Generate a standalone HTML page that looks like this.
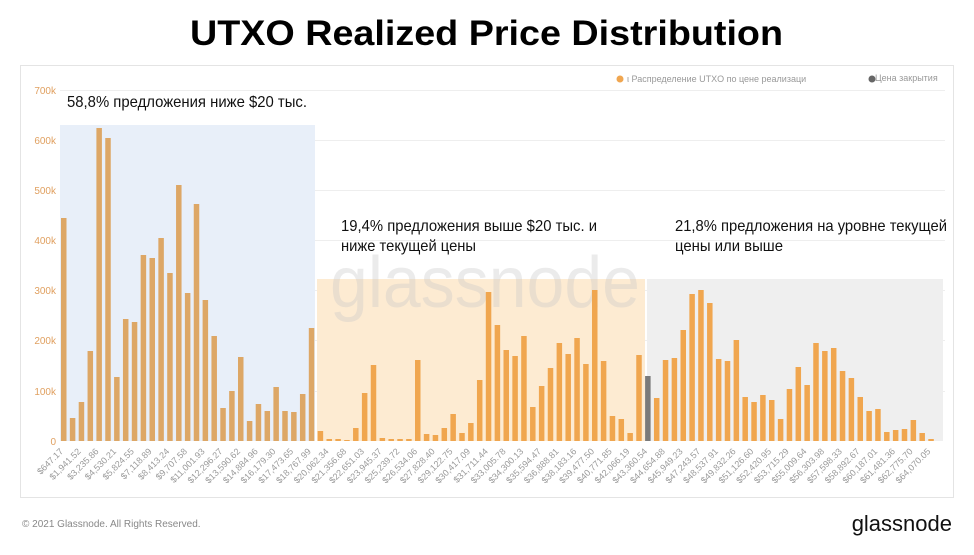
<!DOCTYPE html>
<html><head><meta charset="utf-8"><style>
body{margin:0;background:#fff;width:974px;height:550px;overflow:hidden;font-family:"Liberation Sans",sans-serif}
</style></head><body>
<svg id="s" width="974" height="550" xmlns="http://www.w3.org/2000/svg" font-family="Liberation Sans, sans-serif">
<text x="190" y="45" textLength="593" lengthAdjust="spacingAndGlyphs" font-size="35" font-weight="bold" fill="#000">UTXO Realized Price Distribution</text>
<rect x="20.5" y="65.5" width="933" height="432" fill="#fff" stroke="#e4e4e4"/>
<g stroke="#eeeeee" stroke-width="1">
<line x1="60" x2="945" y1="90.5" y2="90.5"/><line x1="60" x2="945" y1="140.5" y2="140.5"/><line x1="60" x2="945" y1="190.5" y2="190.5"/><line x1="60" x2="945" y1="240.5" y2="240.5"/><line x1="60" x2="945" y1="290.5" y2="290.5"/><line x1="60" x2="945" y1="340.5" y2="340.5"/><line x1="60" x2="945" y1="391.5" y2="391.5"/>
</g>
<rect x="60" y="125" width="255" height="316" fill="#e8eff9"/>
<rect x="317" y="279" width="328" height="162" fill="#fdebd2"/>
<rect x="647" y="279" width="296" height="162" fill="#efefef"/>
<text x="330" y="307" textLength="310" lengthAdjust="spacingAndGlyphs" font-size="72" fill="#c8c8c8" opacity="0.35">glassnode</text>
<g font-size="10" fill="#e0a060" text-anchor="end">
<text x="56" y="94">700k</text><text x="56" y="144">600k</text><text x="56" y="194">500k</text><text x="56" y="244">400k</text><text x="56" y="294">300k</text><text x="56" y="344">200k</text><text x="56" y="395">100k</text><text x="56" y="445">0</text>
</g>
<g id="bars"></g>
<g id="lbl" font-size="9" fill="#999" text-anchor="end">
<text>$647.17</text><text>$1,941.52</text><text>$3,235.86</text><text>$4,530.21</text><text>$5,824.55</text><text>$7,118.89</text><text>$8,413.24</text><text>$9,707.58</text><text>$11,001.93</text><text>$12,296.27</text><text>$13,590.62</text><text>$14,884.96</text><text>$16,179.30</text><text>$17,473.65</text><text>$18,767.99</text><text>$20,062.34</text><text>$21,356.68</text><text>$22,651.03</text><text>$23,945.37</text><text>$25,239.72</text><text>$26,534.06</text><text>$27,828.40</text><text>$29,122.75</text><text>$30,417.09</text><text>$31,711.44</text><text>$33,005.78</text><text>$34,300.13</text><text>$35,594.47</text><text>$36,888.81</text><text>$38,183.16</text><text>$39,477.50</text><text>$40,771.85</text><text>$42,066.19</text><text>$43,360.54</text><text>$44,654.88</text><text>$45,949.23</text><text>$47,243.57</text><text>$48,537.91</text><text>$49,832.26</text><text>$51,126.60</text><text>$52,420.95</text><text>$53,715.29</text><text>$55,009.64</text><text>$56,303.98</text><text>$57,598.33</text><text>$58,892.67</text><text>$60,187.01</text><text>$61,481.36</text><text>$62,775.70</text><text>$64,070.05</text>
</g>
<text x="67" y="107" font-size="16" textLength="240" lengthAdjust="spacingAndGlyphs" fill="#111">58,8% предложения ниже $20 тыс.</text>
<text x="341" y="231" font-size="16" textLength="256" lengthAdjust="spacingAndGlyphs" fill="#111">19,4% предложения выше $20 тыс. и</text>
<text x="341" y="251" font-size="16" textLength="135" lengthAdjust="spacingAndGlyphs" fill="#111">ниже текущей цены</text>
<text x="675" y="231" font-size="16" textLength="272" lengthAdjust="spacingAndGlyphs" fill="#111">21,8% предложения на уровне текущей</text>
<text x="675" y="251" font-size="16" textLength="108" lengthAdjust="spacingAndGlyphs" fill="#111">цены или выше</text>
<circle cx="620" cy="79" r="3.5" fill="#f0a650"/>
<text x="627" y="82" font-size="9" fill="#999">ι Распределение UTXO по цене реализаци</text>
<circle cx="872" cy="79" r="3.5" fill="#666"/>
<text x="875" y="81" font-size="9" fill="#999">Цена закрытия</text>
<text x="22" y="527" font-size="10" fill="#888">© 2021 Glassnode. All Rights Reserved.</text>
<text x="952" y="531" text-anchor="end" font-size="22" fill="#111">glassnode</text>
</svg>
<script>
var h=[223,23,39,90,313,303,64,122,119,186,183,203,168,256,148,237,141,105,33,50,84,20,37,30,54,30,29,47,113,
10,2,2,1,13,48,76,3,2,2,2,81,7,6,13,27,8,18,61,149,116,91,85,105,34,55,73,98,87,103,77,151,80,25,22,8,86,
65,43,81,83,111,147,151,138,82,80,101,44,39,46,41,22,52,74,56,98,90,93,70,63,44,30,32,9,11,12,21,8,2];
var g=document.getElementById('bars'),ns="http://www.w3.org/2000/svg";
for(var i=0;i<h.length;i++){var r=document.createElementNS(ns,'rect');var x=60+i*8.85;
r.setAttribute('x',x+1);r.setAttribute('width',5.5);r.setAttribute('y',441-h[i]);r.setAttribute('height',h[i]);
r.setAttribute('fill',i<29?'#dda766':(i==66?'#7a7a7a':'#f0a64f'));g.appendChild(r);}
var t=document.getElementById('lbl').children;
for(var j=0;j<t.length;j++){var cx=63.75+j*17.7;t[j].setAttribute('transform','translate('+cx+',452) rotate(-45)');}
</script>
</body></html>
